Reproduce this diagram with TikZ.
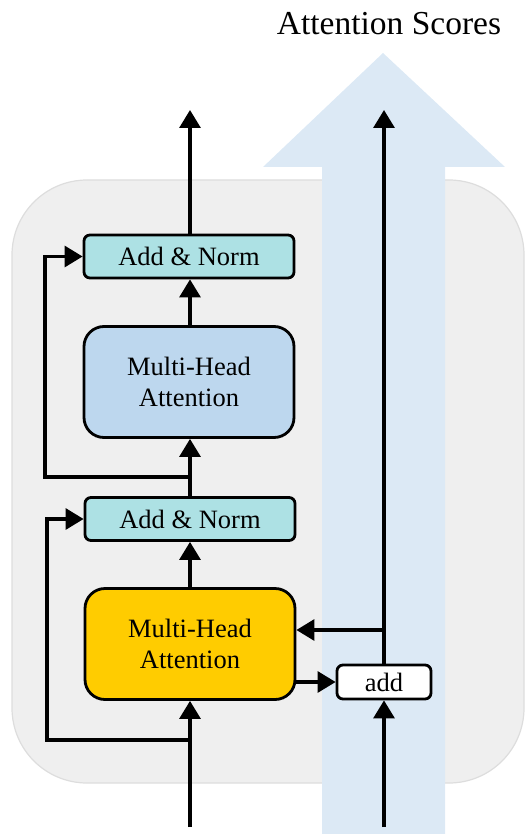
\documentclass[tikz,border=0pt]{standalone}
\usepackage{fontspec}
\setmainfont{Liberation Serif}
\usetikzlibrary{arrows.meta}
\definecolor{graybg}{HTML}{EFEFEF}
\definecolor{grayedge}{HTML}{DDDDDD}
\definecolor{bigblue}{HTML}{DCE9F5}
\definecolor{normfill}{HTML}{ADE1E4}
\definecolor{mhablue}{HTML}{BDD7EE}
\definecolor{mhayellow}{HTML}{FFCC00}
\tikzset{
  box/.style={draw=black, line width=2.8pt, inner sep=0pt, align=center, font=\fontsize{26.5}{31}\selectfont},
  normbox/.style={box, fill=normfill, rounded corners=6pt, minimum width=210pt, minimum height=43pt},
  mhabox/.style={box, rounded corners=20pt, minimum width=210pt, minimum height=111pt},
  addbox/.style={box, fill=white, rounded corners=6pt, minimum width=94pt, minimum height=34pt},
  arr/.style={line width=3.1pt, -{Triangle[length=18pt,width=21pt]}},
  ln/.style={line width=3.1pt}
}
\begin{document}
\begin{tikzpicture}[x=1pt,y=-1pt]
\useasboundingbox (0,0) rectangle (530,834);
% gray background panel
\fill[graybg, draw=grayedge, line width=1.2pt, rounded corners=75pt] (12,180) rectangle (524,783);
% big light blue arrow
\fill[bigblue] (322,834) -- (322,167) -- (263,167) -- (383,53) -- (505,167) -- (445,167) -- (445,834) -- cycle;
% title
\node (title) at (389,24) {\fontsize{33.5}{38}\selectfont Attention Scores};
% boxes
\node[normbox] (an2) at (189,256.5) {Add \& Norm};
\node[mhabox, fill=mhablue] (mha2) at (189,382) {Multi-Head\\Attention};
\node[normbox] (an1) at (190,519) {Add \& Norm};
\node[mhabox, fill=mhayellow] (mha1) at (190,644) {Multi-Head\\Attention};
\node[addbox] (add) at (384,682) {add};
% coordinates
\coordinate (in1) at (190,827);
\coordinate (in2) at (384,827);
\coordinate (b1) at (190,740);
\coordinate (l1) at (47,740);
\coordinate (b2) at (190,477);
\coordinate (l2) at (45,477);
\coordinate (out1) at (190,110);
\coordinate (out2) at (384,110);
\coordinate (b3) at (384,630);
% connectors
\draw[arr] (in1) -- (mha1.south);
\draw[arr] (b1) -- (l1) |- (an1.west);
\draw[arr] (mha1.north) -- (an1.south);
\draw[arr] (an1.north) -- (mha2.south -| an1.north);
\draw[arr] (b2) -- (l2) |- (an2.west);
\draw[arr] (mha2.north -| an1.north) -- (an2.south -| an1.north);
\draw[arr] (an2.north -| an1.north) -- (out1);
\draw[arr] (in2) -- (add.south);
\draw[arr] (add.north) -- (out2);
\draw[arr] (b3) -- (mha1.east |- b3);
\draw[arr] (mha1.east |- add) -- (add.west);
\end{tikzpicture}
\end{document}
